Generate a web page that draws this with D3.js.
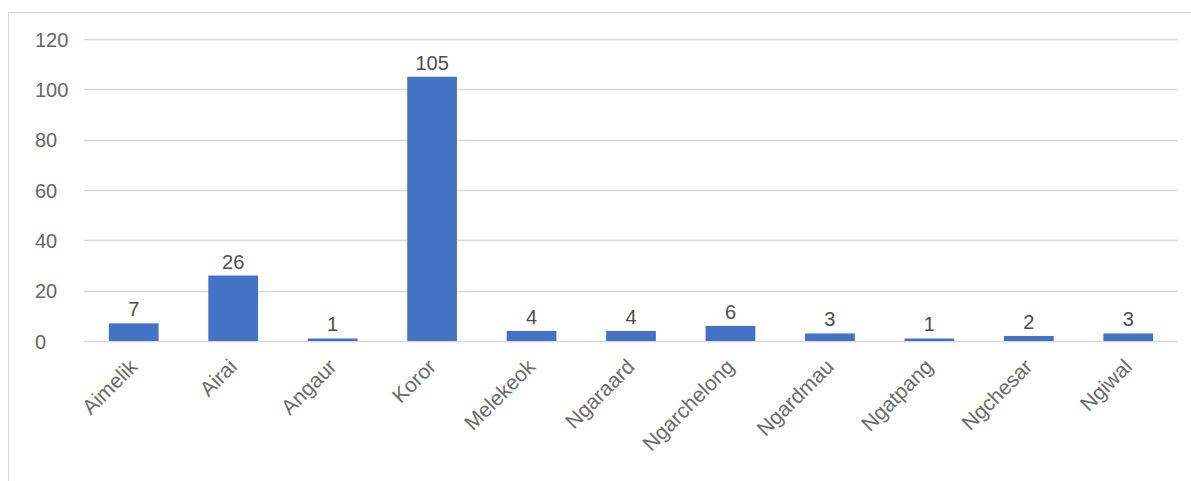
<!DOCTYPE html>
<html><head><meta charset="utf-8">
<script src="https://cdn.jsdelivr.net/npm/d3@7"></script>
<style>body{margin:0;background:#fff;} svg{display:block;}</style>
</head><body>
<svg id="c" width="1191" height="481"></svg>
<script>
const categories = ["Aimelik","Airai","Angaur","Koror","Melekeok","Ngaraard","Ngarchelong","Ngardmau","Ngatpang","Ngchesar","Ngiwal"];
const values = [7,26,1,105,4,4,6,3,1,2,3];
const yTicks = [0,20,40,60,80,100,120];

(function(){
const svg = d3.select("#c");
const font = "Liberation Sans, Arial, sans-serif";
svg.append("rect").attr("x",8.5).attr("y",12.5).attr("width",1200).attr("height",500)
  .attr("fill","#fff").attr("stroke","#d9d9d9").attr("stroke-width",1);

const pl = 84, pr = 1178, pt = 39, pb = 341;
const x = d3.scaleBand().domain(categories).range([pl,pr]).paddingInner(0.5).paddingOuter(0.25);
const y = d3.scaleLinear().domain([0,120]).range([pb,pt]);

svg.append("g").selectAll("line").data(yTicks).join("line")
  .attr("x1",pl).attr("x2",pr).attr("y1",d=>Math.round(y(d))+0.5).attr("y2",d=>Math.round(y(d))+0.5)
  .attr("stroke","#d9d9d9").attr("stroke-width",1.3);

const yAxis = d3.axisLeft(y).tickValues(yTicks).tickSize(0).tickPadding(0);
const ya = svg.append("g").attr("transform",`translate(35,0)`).call(yAxis);
ya.select(".domain").remove();
ya.selectAll("text").attr("text-anchor","start").attr("x",0).attr("dy","0.35em")
  .style("font-family",font).style("font-size","20px").attr("fill","#666666");

svg.append("g").selectAll("rect").data(values).join("rect")
  .attr("x",(d,i)=>x(categories[i])).attr("width",x.bandwidth())
  .attr("y",d=>y(d)).attr("height",d=>y(0)-y(d)).attr("fill","#4472c4");

svg.append("g").selectAll("text").data(values).join("text")
  .attr("x",(d,i)=>x(categories[i])+x.bandwidth()/2).attr("y",d=>y(d)-7)
  .attr("text-anchor","middle").style("font-family",font).style("font-size","20px")
  .attr("fill","#4d4d4d").text(d=>d);

const xAxis = d3.axisBottom(x).tickSize(0).tickPadding(0);
const xa = svg.append("g").attr("transform",`translate(0,${pb})`).call(xAxis);
xa.select(".domain").remove();
xa.selectAll("text").attr("text-anchor","end").attr("dy",0).attr("y",0)
  .attr("transform",`translate(5,27) rotate(-45)`)
  .style("font-family",font).style("font-size","21px").attr("fill","#6b6b6b");
})();
</script>
</body></html>
